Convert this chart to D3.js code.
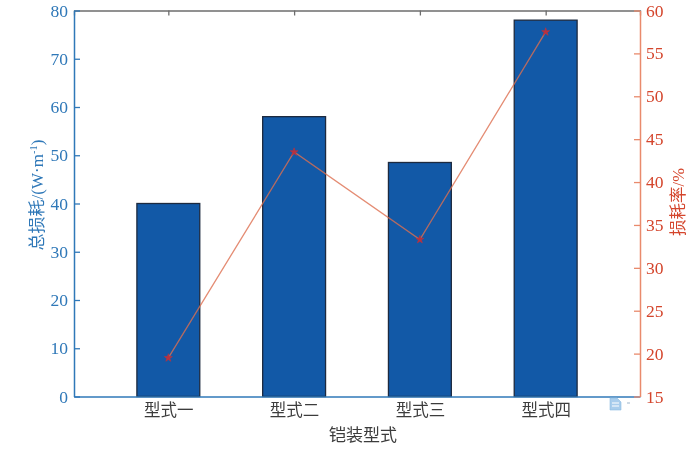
<!DOCTYPE html>
<html><head><meta charset="utf-8">
<script src="https://cdn.jsdelivr.net/npm/d3@7"></script>
<style>
html,body{margin:0;padding:0;background:#fff}
svg{display:block;filter:blur(.35px)}
text{font-family:"Liberation Serif","Noto Sans CJK SC",serif}
</style></head><body>
<svg id="c" width="700" height="469"></svg>
<script>
const categories=["型式一","型式二","型式三","型式四"];
const totalLoss=[40,58,48.5,78];
const lossRate=[19.5,43.5,33.3,57.5];
const leftTicks=[0,10,20,30,40,50,60,70,80];
const rightTicks=[15,20,25,30,35,40,45,50,55,60];
const xLabel="铠装型式";
const yLabel="总损耗/(W·m";
const y2Label="损耗率/%";

const L=74,R=640,T=10.5,B=396.5;
const blue="#2f78b8",red="#d4452c",lineC="#e98a6c",barC="#1259a7";
const svg=d3.select("#c");
const x=d3.scaleLinear().domain([0.25,4.75]).range([L,R]);
const y=d3.scaleLinear().domain([0,80]).range([B,T]);
const y2=d3.scaleLinear().domain([15,60]).range([B,T]);
const idx=categories.map((_,i)=>i+1);

// bars
svg.append("g").selectAll("rect").data(totalLoss).join("rect")
  .attr("x",(d,i)=>x(i+1-0.25)).attr("width",x(1.5)-x(1))
  .attr("y",d=>y(d)).attr("height",d=>B-y(d))
  .attr("fill",barC).attr("stroke","#1d2a3f").attr("stroke-width",1.3);

// top frame with ticks
const topAxis=svg.append("g").attr("transform",`translate(0,${T})`)
  .call(d3.axisBottom(x).tickValues(idx).tickSize(5).tickFormat(""));
topAxis.selectAll("path,line").attr("stroke","#6d6d6d").attr("stroke-width",1.3);

// bottom axis
const botAxis=svg.append("g").attr("transform",`translate(0,${B})`)
  .call(d3.axisBottom(x).tickValues(idx).tickSize(0).tickPadding(8).tickFormat((d,i)=>categories[i]));
botAxis.select("path").attr("stroke",blue).attr("stroke-width",1.4);
botAxis.selectAll("text").attr("font-size",16.5).attr("fill","#3c3c3c")
  .style("font-family",'"Noto Sans CJK SC",serif');

// left axis
const leftAxis=svg.append("g").attr("transform",`translate(${L},0)`)
  .call(d3.axisLeft(y).tickValues(leftTicks).tickSize(-6).tickPadding(5).tickSizeOuter(0));
leftAxis.select("path").attr("stroke",blue).attr("stroke-width",1.5);
leftAxis.selectAll("line").attr("stroke",blue).attr("stroke-width",1.3);
leftAxis.selectAll("text").attr("font-size",17.5).attr("fill",blue).attr("x",-6);

// right axis
const rightAxis=svg.append("g").attr("transform",`translate(${R},0)`)
  .call(d3.axisRight(y2).tickValues(rightTicks).tickSize(-6).tickSizeOuter(0));
rightAxis.select("path").attr("stroke",lineC).attr("stroke-width",1.5);
rightAxis.selectAll("line").attr("stroke",lineC).attr("stroke-width",1.3);
rightAxis.selectAll("text").attr("font-size",17.5).attr("fill",red).attr("x",6);

// line
svg.append("path").datum(lossRate)
  .attr("d",d3.line().x((d,i)=>x(i+1)).y(d=>y2(d)))
  .attr("fill","none").attr("stroke","#dd6f50").attr("stroke-opacity",.8).attr("stroke-width",1.3);
svg.append("g").selectAll("path").data(lossRate).join("path")
  .attr("transform",(d,i)=>`translate(${x(i+1)},${y2(d)})`)
  .attr("d",d3.symbol(d3.symbolStar,20))
  .attr("fill","#b8323f").attr("stroke","#b8323f").attr("stroke-width",.6);

// axis titles
svg.append("text").attr("x",363).attr("y",441).attr("text-anchor","middle")
  .attr("font-size",17).attr("fill","#3c3c3c")
  .style("font-family",'"Noto Sans CJK SC",serif').text(xLabel);
const yt=svg.append("text").attr("transform","translate(43,195) rotate(-90)")
  .attr("text-anchor","middle").attr("font-size",17).attr("fill",blue);
yt.append("tspan").text(yLabel);
yt.append("tspan").attr("font-size",10.5).attr("dy",-6).text("-1");
yt.append("tspan").attr("dy",6).text(")");
svg.append("text").attr("transform","translate(684,202) rotate(-90)")
  .attr("text-anchor","middle").attr("font-size",16.5).attr("fill",red).text(y2Label);

// small page glyph beside the last label
const icon=svg.append("g").attr("transform","translate(610,398)");
icon.append("path").attr("d","M0,0H7L11,4V12H0Z").attr("fill","#a9cdec").attr("stroke","#8fbce3").attr("stroke-width",.6);
icon.append("path").attr("d","M2,5H9M2,8H9").attr("stroke","#fff").attr("stroke-width",1);
icon.append("rect").attr("x",17).attr("y",4.5).attr("width",3).attr("height",1).attr("fill","#9db6cc");
</script>
</body></html>
